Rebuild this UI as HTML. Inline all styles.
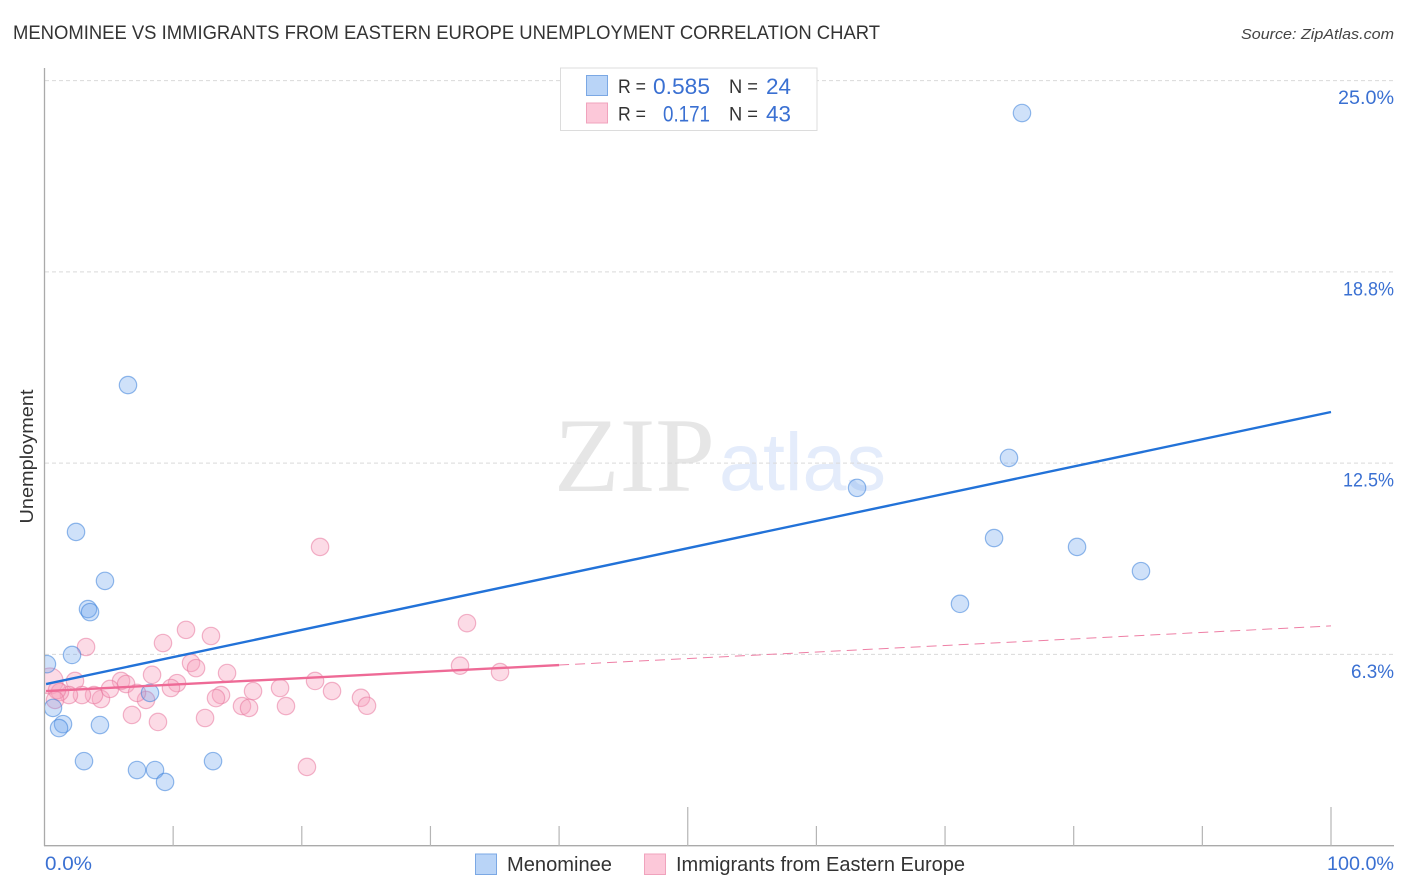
<!DOCTYPE html>
<html lang="en">
<head>
<meta charset="utf-8">
<title>Menominee vs Immigrants from Eastern Europe Unemployment Correlation Chart</title>
<style>
html,body{margin:0;padding:0;background:#fff;width:1406px;height:892px;overflow:hidden}
svg{display:block;font-family:"Liberation Sans",sans-serif}
</style>
</head>
<body>
<svg id="chart" xmlns="http://www.w3.org/2000/svg" width="1406" height="892" viewBox="0 0 1406 892">
  <defs><clipPath id="plot-clip"><rect x="45" y="68" width="1349" height="777"/></clipPath></defs>
  <rect width="1406" height="892" fill="#fff"/>
  <text x="13" y="39" font-size="19" fill="#333" textLength="867" lengthAdjust="spacingAndGlyphs">MENOMINEE VS IMMIGRANTS FROM EASTERN EUROPE UNEMPLOYMENT CORRELATION CHART</text>
  <text x="1394" y="39" font-size="15" font-style="italic" fill="#444" text-anchor="end" textLength="153" lengthAdjust="spacingAndGlyphs">Source: ZipAtlas.com</text>
  <g>
    <text x="554" y="491" font-family="'Liberation Serif',serif" font-size="106" fill="#e6e6e6" textLength="161" lengthAdjust="spacingAndGlyphs">ZIP</text>
    <text x="719" y="490" font-size="82" fill="#e4ecfb" textLength="167" lengthAdjust="spacingAndGlyphs">atlas</text>
  </g>
  <g id="grid"></g>
  <g id="axes"></g>
  <g id="points" clip-path="url(#plot-clip)"></g>
  <g id="trends"></g>
  <g id="ylabels"></g>
  <g id="xlabels"></g>
  <text transform="translate(33,456.5) rotate(-90)" font-size="18.5" fill="#333" text-anchor="middle" textLength="134" lengthAdjust="spacingAndGlyphs">Unemployment</text>

  <g>
    <rect x="560.5" y="68" width="256.5" height="62.5" fill="#fff" stroke="#dcdcdc" stroke-width="1"/>
    <rect x="586.5" y="75.5" width="21" height="20" fill="#b9d4f7" stroke="#7ba8e4" stroke-width="1"/>
    <rect x="586.5" y="103" width="21" height="20" fill="#fcc8d9" stroke="#f0a3bd" stroke-width="1"/>
    <text x="618" y="93" font-size="19" fill="#333" textLength="28" lengthAdjust="spacingAndGlyphs">R =</text>
    <text x="710" y="94" font-size="22" fill="#3a70d2" text-anchor="end" textLength="57" lengthAdjust="spacingAndGlyphs">0.585</text>
    <text x="729" y="93" font-size="19" fill="#333" textLength="29" lengthAdjust="spacingAndGlyphs">N =</text>
    <text x="791" y="94" font-size="22" fill="#3a70d2" text-anchor="end" textLength="25" lengthAdjust="spacingAndGlyphs">24</text>
    <text x="618" y="120.500" font-size="19" fill="#333" textLength="28" lengthAdjust="spacingAndGlyphs">R =</text>
    <text x="710" y="121.500" font-size="22" fill="#3a70d2" text-anchor="end" textLength="47" lengthAdjust="spacingAndGlyphs">0.171</text>
    <text x="729" y="120.500" font-size="19" fill="#333" textLength="29" lengthAdjust="spacingAndGlyphs">N =</text>
    <text x="791" y="121.500" font-size="22" fill="#3a70d2" text-anchor="end" textLength="25" lengthAdjust="spacingAndGlyphs">43</text>
  </g>

  <g>
    <rect x="475.500" y="854" width="21" height="20.500" fill="#b9d4f7" stroke="#7ba8e4" stroke-width="1"/>
    <text x="507" y="871" font-size="20" fill="#333" textLength="105" lengthAdjust="spacingAndGlyphs">Menominee</text>
    <rect x="644.500" y="854" width="21" height="20.500" fill="#fcc8d9" stroke="#f0a3bd" stroke-width="1"/>
    <text x="676" y="871" font-size="20" fill="#333" textLength="289" lengthAdjust="spacingAndGlyphs">Immigrants from Eastern Europe</text>
  </g>
</svg>
<script>
const yTickValues = [25, 18.75, 12.5, 6.25];
const yTickLabels = ["25.0%", "18.8%", "12.5%", "6.3%"];
const xTickValues = [0, 10, 20, 30, 40, 50, 60, 70, 80, 90, 100];
const xEndLabels = ["0.0%", "100.0%"];

const menomineeX = [75.98, 6.49, 2.45, 4.70, 3.38, 3.54, 0.19, 2.14, 8.20, 0.66, 1.44, 1.13, 4.31, 3.07, 7.19, 8.59, 9.37, 13.10, 63.16, 74.97, 73.81, 80.26, 85.23, 71.16];
const menomineeY = [23.94, 15.05, 10.25, 8.65, 7.73, 7.63, 5.93, 6.23, 4.99, 4.50, 3.97, 3.84, 3.94, 2.76, 2.47, 2.47, 2.08, 2.76, 11.69, 12.67, 10.05, 9.76, 8.97, 7.90];

const immigrantsX = [0.43, 3.23, 9.21, 11.00, 12.94, 11.39, 11.78, 14.19, 8.36, 2.37, 5.95, 6.34, 10.30, 9.83, 21.03, 22.35, 16.21, 18.31, 13.72, 13.33, 18.77, 15.35, 15.90, 12.48, 8.82, 6.80, 7.89, 7.19, 4.39, 3.85, 5.09, 2.91, 1.90, 1.20, 0.97, 0.82, 20.40, 21.42, 32.84, 32.30, 35.41, 24.60, 25.07];
const immigrantsY = [5.38, 6.49, 6.62, 7.05, 6.85, 5.97, 5.80, 5.64, 5.58, 5.38, 5.38, 5.28, 5.31, 5.15, 5.38, 5.05, 5.05, 5.15, 4.92, 4.82, 4.56, 4.56, 4.50, 4.17, 4.04, 4.27, 4.76, 4.99, 4.79, 4.92, 5.12, 4.92, 4.92, 5.02, 5.08, 4.76, 2.57, 9.76, 7.27, 5.88, 5.67, 4.83, 4.57];
const immigrantsWeight = [1.5, 1, 1, 1, 1, 1, 1, 1, 1, 1, 1, 1, 1, 1, 1, 1, 1, 1, 1, 1, 1, 1, 1, 1, 1, 1, 1, 1, 1, 1, 1, 1, 1, 1, 1, 1, 1, 1, 1, 1, 1, 1, 1];

const menomineeTrendX = [0.12, 100];
const menomineeTrendY = [5.28, 14.17];
const immigrantsTrendX = [0.12, 40];
const immigrantsTrendY = [5.05, 5.90];
const immigrantsDashX = [40, 100];
const immigrantsDashY = [5.90, 7.18];

const NS = "http://www.w3.org/2000/svg";
const xScale = v => 44.5 + v * 12.865;
const yScale = v => 845.6 - v * 30.6;

function make(tag, attrs, parent) {
  const el = document.createElementNS(NS, tag);
  for (const k in attrs) el.setAttribute(k, attrs[k]);
  parent.appendChild(el);
  return el;
}

function yLabelWidth(text) {
  const digits = text.replace(/[^0-9]/g, "").length;
  const ones = text.replace(/[^1]/g, "").length;
  return digits * 13 + 17 - ones * 5;
}

const gridGroup = document.getElementById("grid");
const yLabelGroup = document.getElementById("ylabels");
yTickValues.forEach((v, i) => {
  const line = make("line", {x1: 45, x2: 1394, y1: yScale(v), y2: yScale(v), stroke: "#d9d9d9", "stroke-width": 1, "stroke-dasharray": "4 3"}, gridGroup);
  
  
  const label = make("text", {x: 1394, y: yScale(v) + 23.5, "font-size": 19, fill: "#3a70d2", "text-anchor": "end", textLength: yLabelWidth(yTickLabels[i]), lengthAdjust: "spacingAndGlyphs"}, yLabelGroup);
  
  
  label.textContent = yTickLabels[i];
});

const axesGroup = document.getElementById("axes");
const yAxis = make("line", {x1: 44.5, x2: 44.5, y1: 68, y2: 846, stroke: "#aaa", "stroke-width": 1.3}, axesGroup);


const xAxis = make("line", {x1: 44, x2: 1394, y1: 845.7, y2: 845.7, stroke: "#aaa", "stroke-width": 1.3}, axesGroup);


xTickValues.forEach(v => {
  if (v === 0) return;
  const tall = v === 50 || v === 100;
  const tick = make("line", {x1: xScale(v), x2: xScale(v), y1: tall ? 807 : 826, y2: 846, stroke: "#b5b5b5", "stroke-width": 1.2}, axesGroup);
  
  
});

const xLabelGroup = document.getElementById("xlabels");
const xStart = make("text", {x: 45, y: 870, "font-size": 19, fill: "#3a70d2", textLength: 47, lengthAdjust: "spacingAndGlyphs"}, xLabelGroup);


xStart.textContent = xEndLabels[0];
const xEnd = make("text", {x: 1394, y: 870, "font-size": 19, fill: "#3a70d2", "text-anchor": "end", textLength: 67, lengthAdjust: "spacingAndGlyphs"}, xLabelGroup);


xEnd.textContent = xEndLabels[1];

const pointGroup = document.getElementById("points");
immigrantsX.forEach((v, i) => {
  const c = make("circle", {cx: xScale(v), cy: yScale(immigrantsY[i]), r: 8.7 * immigrantsWeight[i], fill: "rgba(248,160,188,0.38)", stroke: "rgba(232,120,158,0.55)", "stroke-width": 1.2}, pointGroup);
  
  
});
menomineeX.forEach((v, i) => {
  const c = make("circle", {cx: xScale(v), cy: yScale(menomineeY[i]), r: 8.7, fill: "rgba(110,165,238,0.33)", stroke: "rgba(60,130,218,0.55)", "stroke-width": 1.2}, pointGroup);
  
  
});

const trendGroup = document.getElementById("trends");
const blueTrend = make("line", {x1: xScale(menomineeTrendX[0]), y1: yScale(menomineeTrendY[0]), x2: xScale(menomineeTrendX[1]), y2: yScale(menomineeTrendY[1]), stroke: "#2272d8", "stroke-width": 2.4}, trendGroup);


const pinkTrend = make("line", {x1: xScale(immigrantsTrendX[0]), y1: yScale(immigrantsTrendY[0]), x2: xScale(immigrantsTrendX[1]), y2: yScale(immigrantsTrendY[1]), stroke: "#ee6a96", "stroke-width": 2.4}, trendGroup);


const pinkDash = make("line", {x1: xScale(immigrantsDashX[0]), y1: yScale(immigrantsDashY[0]), x2: xScale(immigrantsDashX[1]), y2: yScale(immigrantsDashY[1]), stroke: "#ee7fa5", "stroke-width": 1, "stroke-dasharray": "10 6"}, trendGroup);


</script>
</body>
</html>
